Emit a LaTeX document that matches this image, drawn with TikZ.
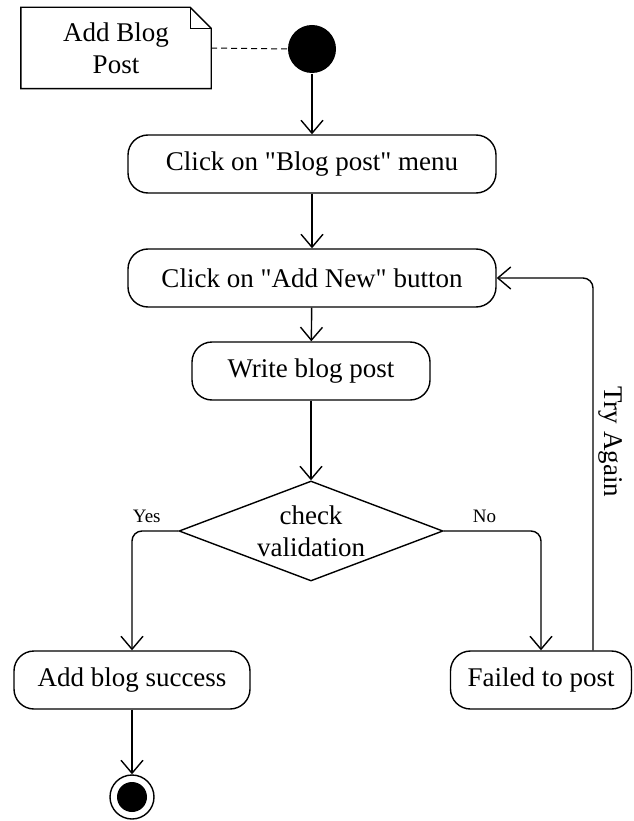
\documentclass[tikz,border=0pt]{standalone}
\usepackage{fontspec}
\setmainfont{Liberation Serif}[Ligatures=TeXOff]
\usetikzlibrary{shapes.geometric,arrows.meta}

\begin{document}
\begin{tikzpicture}[x=1pt,y=-1pt,line width=1.4pt,
  font=\fontsize{27}{32}\selectfont,
  act/.style={draw, rounded corners=20pt, inner sep=0pt, minimum height=58pt, align=center},
  decide/.style={draw, diamond, aspect=2.6, inner sep=0pt, minimum width=264pt, minimum height=100pt, align=center},
  flow/.style={-{Straight Barb[length=13pt,width=22pt,line width=1.4pt]}, rounded corners=10pt},
  small/.style={font=\fontsize{19}{22}\selectfont}]
 \useasboundingbox (0,0) rectangle (633,821);

 \node[inner sep=0pt, minimum width=189pt, minimum height=80pt, align=center] (note) at (116,48) {Add Blog\\Post};
 \draw (note.south west) |- ([xshift=-21pt]note.north east) -- ([yshift=-21pt]note.north east) |- cycle;
 \draw ([xshift=-21pt]note.north east) |- ([yshift=-21pt]note.north east);

 \node[circle, fill=black, inner sep=0pt, minimum size=48pt] (start) at (312,49) {};
 \node[act, minimum width=368pt] (menu) at (312,164) {Click on "Blog post" menu};
 \node[act, minimum width=368pt] (addnew) at (312,278) {Click on "Add New" button};
 \node[act, minimum width=238pt] (write) at (311,371) {Write blog post};
 \node[decide] (check) at (311,531) {check\\validation};
 \node[act, minimum width=236pt] (success) at (132,680) {Add blog success};
 \node[act, minimum width=181pt] (failed) at (541,680) {Failed to post};
 \node[circle, draw, inner sep=0pt, minimum size=44pt] (end) at (132,797) {};
 \fill (end.center) circle (15pt);

 \draw[line width=1pt, dash pattern=on 6pt off 4pt] (note.east) -- (start.west);
 \draw[flow] (start) -- (menu);
 \draw[flow] (menu) -- (addnew);
 \draw[flow] (addnew) -- (write);
 \draw[flow] (write) -- (check);
 \draw[flow] (check.west) -| node[small, pos=0.34, above=4pt]{Yes} (success.north);
 \draw[flow] (check.east) -| node[small, pos=0.21, above=4pt]{No} (failed.north);
 \draw[flow] ([xshift=52pt]failed.north) |- node[pos=0.28, rotate=-90, above=2pt]{Try Again} (addnew.east);
 \draw[flow] (success) -- (end);

\end{tikzpicture}
\end{document}
